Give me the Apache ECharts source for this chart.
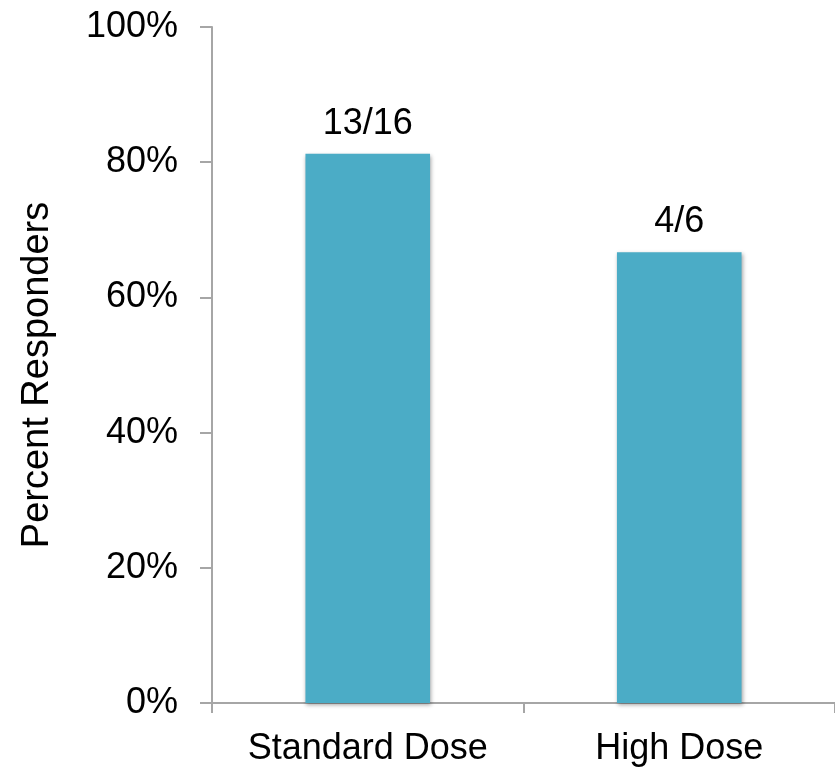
<!DOCTYPE html>
<html>
<head>
<meta charset="utf-8">
<script src="https://cdn.jsdelivr.net/npm/echarts@6/dist/echarts.min.js"></script>
<style>
  html, body { margin: 0; padding: 0; background: #ffffff; }
  #chart { width: 835px; height: 767px; }
</style>
</head>
<body>
<div id="chart"></div>
<script>
// Dose groups and responder counts
const categories = ['Standard Dose', 'High Dose'];
const responders = [13, 4];
const patients = [16, 6];
const yTicks = [0, 20, 40, 60, 80, 100];

// Percent responders per group, from the counts shown on each bar
const percents = responders.map((r, i) => r / patients[i] * 100);
const countLabels = responders.map((r, i) => r + '/' + patients[i]);

const FONT = '"Liberation Sans", Arial, sans-serif';
const AXIS_GREY = '#a6a6a6';

const chart = echarts.init(document.getElementById('chart'), null, { renderer: 'canvas' });
chart.setOption({
  animation: false,
  backgroundColor: '#ffffff',
  grid: { left: 212, right: -4, top: 27, bottom: 64, containLabel: false },
  xAxis: {
    type: 'category',
    data: categories,
    boundaryGap: true,
    axisLine: { lineStyle: { color: AXIS_GREY, width: 2 } },
    axisTick: { show: true, length: 10, lineStyle: { color: AXIS_GREY, width: 2 } },
    axisLabel: {
      interval: 0, hideOverlap: false,
      color: '#000000', fontFamily: FONT, fontSize: 36, margin: 28
    }
  },
  yAxis: {
    type: 'value',
    min: yTicks[0],
    max: yTicks[yTicks.length - 1],
    interval: 20,
    name: 'Percent Responders',
    nameLocation: 'middle',
    nameGap: 155,
    nameRotate: 90,
    nameTextStyle: {
      color: '#000000', fontFamily: FONT, fontSize: 38,
      padding: [0, 20, 0, 0]
    },
    axisLine: { show: true, lineStyle: { color: AXIS_GREY, width: 2 } },
    axisTick: { show: true, length: 12, lineStyle: { color: AXIS_GREY, width: 2 } },
    splitLine: { show: false },
    axisLabel: {
      color: '#000000', fontFamily: FONT, fontSize: 36, margin: 34,
      padding: [10, 0, 0, 0],
      formatter: v => v + '%'
    }
  },
  series: [{
    type: 'bar',
    data: percents,
    barWidth: '40%',
    itemStyle: {
      color: '#4bacc6',
      shadowColor: 'rgba(0,0,0,0.35)',
      shadowBlur: 4,
      shadowOffsetX: 1,
      shadowOffsetY: 2
    },
    label: {
      show: true,
      position: 'top',
      distance: 12,
      color: '#000000',
      fontFamily: FONT,
      fontSize: 36,
      formatter: p => countLabels[p.dataIndex]
    }
  }]
});
</script>
</body>
</html>
